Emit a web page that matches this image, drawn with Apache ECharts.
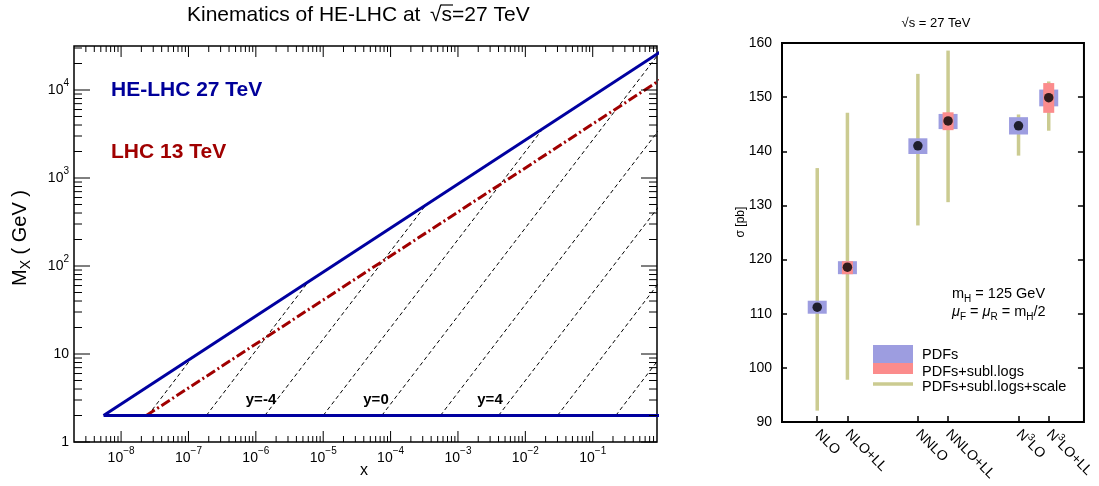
<!DOCTYPE html>
<html>
<head>
<meta charset="utf-8">
<script src="https://cdn.jsdelivr.net/npm/echarts@6/dist/echarts.min.js"></script>
<style>
html, body { margin: 0; padding: 0; background: #fff; }
#chart { width: 1099px; height: 486px; }
</style>
</head>
<body>
<div id="chart"></div>
<script>
// ---------- left panel: kinematic reach ----------
const heLhcLine = [[5.5e-9, 2], [1, 27000]];   // HE-LHC 27 TeV boundary
const lhcLine = [[2.37e-8, 2], [1, 13000]];    // LHC 13 TeV boundary
const floorLine = [[5.5e-9, 2], [1, 2]];       // M = 2 GeV
// constant rapidity lines y = -8 ... 8, start on M = 2 and end on the boundary
const rapStartX = [2.5e-8, 1.84e-7, 1.36e-6, 1.0e-5, 7.4e-5, 5.5e-4, 4.0e-3, 3.0e-2, 0.22];
const rapEndX = [1.13e-7, 6.1e-6, 3.35e-4, 1.83e-2, 1, 1, 1, 1, 1];
const rapEndM = [9.1, 67, 495, 3650, 27000, 3650, 495, 67, 9.1];
const xMajor = [1e-8, 1e-7, 1e-6, 1e-5, 1e-4, 1e-3, 1e-2, 1e-1];
const yMajor = [1, 10, 100, 1000, 10000];

// ---------- right panel: cross sections ----------
const orders = ['NLO', 'NLO+LL', 'NNLO', 'NNLO+LL', 'N{sup|3}LO', 'N{sup|3}LO+LL'];
const orderPos = [0.7, 1.3, 2.7, 3.3, 4.7, 5.3];
const sigma = [111.2, 118.6, 141.0, 145.6, 144.7, 149.9];
const pdfLo = [110.0, 117.3, 139.5, 144.1, 143.1, 148.3];
const pdfHi = [112.4, 119.7, 142.4, 146.9, 146.3, 151.4];
const logsLo = [null, 117.3, null, 143.9, null, 147.1];
const logsHi = [null, 119.7, null, 147.2, null, 152.6];
const scaleLo = [92.1, 97.8, 126.3, 130.6, 139.2, 143.8];
const scaleHi = [136.9, 147.1, 154.3, 158.6, 146.8, 152.9];

const FONT = 'Liberation Sans, Arial, Helvetica, sans-serif';
const X_MIN = 2e-9, X_MAX = 0.9, Y_MIN = 1, Y_MAX = 31623;

// minor log ticks 2..9 x 10^k
const xMinor = [];
for (let e = -9; e <= -1; e++) {
    for (let m = 2; m <= 9; m++) {
        const v = m * Math.pow(10, e);
        if (v > X_MIN * 1.001 && v < X_MAX) xMinor.push(v);
    }
}
const yMinor = [];
for (let e = 0; e <= 4; e++) {
    for (let m = 2; m <= 9; m++) {
        const v = m * Math.pow(10, e);
        if (v < Y_MAX) yMinor.push(v);
    }
}

// ticks on all four sides of the left frame
function tickSeries(vals, dir, len) {
    return {
        type: 'custom', xAxisIndex: 0, yAxisIndex: 0, silent: true, z: 5,
        data: vals.map(v => dir === 'x' ? [v, Y_MIN] : [X_MIN, v]),
        renderItem: function (params, api) {
            const cs = params.coordSys;
            const p = api.coord([api.value(0), api.value(1)]);
            const st = { stroke: '#000', lineWidth: 1 };
            if (dir === 'x') {
                const b = cs.y + cs.height;
                return { type: 'group', children: [
                    { type: 'line', shape: { x1: p[0], y1: b, x2: p[0], y2: b - len }, style: st },
                    { type: 'line', shape: { x1: p[0], y1: cs.y, x2: p[0], y2: cs.y + len }, style: st }
                ] };
            }
            const r = cs.x + cs.width;
            return { type: 'group', children: [
                { type: 'line', shape: { x1: cs.x, y1: p[1], x2: cs.x + len, y2: p[1] }, style: st },
                { type: 'line', shape: { x1: r, y1: p[1], x2: r - len, y2: p[1] }, style: st }
            ] };
        }
    };
}

// vertical bands of the right panel
function bandSeries(lo, hi, color, width, z) {
    const data = [];
    orderPos.forEach((p, i) => {
        if (lo[i] != null) data.push([p, lo[i], hi[i]]);
    });
    return {
        type: 'custom', xAxisIndex: 1, yAxisIndex: 1, z: z, silent: true,
        data: data,
        encode: { x: 0, y: [1, 2] },
        renderItem: function (params, api) {
            const a = api.coord([api.value(0), api.value(1)]);
            const b = api.coord([api.value(0), api.value(2)]);
            return { type: 'rect', shape: { x: a[0] - width / 2, y: b[1], width: width, height: a[1] - b[1] }, style: { fill: color } };
        }
    };
}

function logLabel(v) {
    const lg = Math.log10(v);
    const e = Math.round(lg);
    if (Math.abs(lg - e) > 1e-6) return '';
    if (e === 0) return '1';
    if (e === 1) return '10';
    return '10{sup|' + (e < 0 ? '\u2212' : '') + Math.abs(e) + '}';
}

const rapSeries = rapStartX.map((x0, i) => ({
    type: 'line', xAxisIndex: 0, yAxisIndex: 0, showSymbol: false, silent: true, z: 2,
    data: [[x0, 2], [rapEndX[i], rapEndM[i]]],
    lineStyle: { color: '#000', width: 1, type: [4, 3] }
}));

function txt(x, y, text, size, opts) {
    return Object.assign({
        type: 'text', x: x, y: y, silent: true,
        style: Object.assign({
            text: text, fill: '#000', fontSize: size, fontFamily: FONT,
            align: 'left', textAlign: 'left', verticalAlign: 'middle', textVerticalAlign: 'middle'
        }, opts || {})
    });
}

const chart = echarts.init(document.getElementById('chart'));
chart.setOption({
    animation: false,
    textStyle: { fontFamily: FONT },
    grid: [
        { left: 74, top: 46, width: 583, height: 396, show: true, borderColor: '#000', borderWidth: 1.5 },
        { left: 782, top: 43, width: 308, height: 379, show: true, borderColor: '#000', borderWidth: 2 }
    ],
    xAxis: [
        {
            gridIndex: 0, type: 'log', logBase: 10, min: X_MIN, max: X_MAX,
            axisLine: { show: false }, axisTick: { show: false }, splitLine: { show: false },
            axisLabel: {
                color: '#000', fontSize: 14, margin: 4, lineHeight: 24,
                showMinLabel: false, showMaxLabel: false,
                formatter: logLabel,
                rich: { sup: { fontSize: 10, lineHeight: 12, verticalAlign: 'top' } }
            }
        },
        {
            gridIndex: 1, type: 'value', min: 0, max: 6,
            axisLine: { show: false }, splitLine: { show: false },
            axisTick: { inside: true, length: 6, customValues: orderPos, lineStyle: { color: '#000', width: 1.5 } },
            axisLabel: {
                customValues: orderPos, rotate: -45, margin: 10, color: '#000', fontSize: 14, lineHeight: 20,
                formatter: function (v) {
                    const i = orderPos.findIndex(p => Math.abs(p - v) < 1e-6);
                    return i < 0 ? '' : orders[i];
                },
                rich: { sup: { fontSize: 10, lineHeight: 12, verticalAlign: 'top' } }
            }
        }
    ],
    yAxis: [
        {
            gridIndex: 0, type: 'log', logBase: 10, min: Y_MIN, max: Y_MAX,
            axisLine: { show: false }, axisTick: { show: false }, splitLine: { show: false },
            axisLabel: {
                color: '#000', fontSize: 14, margin: 5, lineHeight: 24,
                showMaxLabel: false,
                formatter: logLabel,
                rich: { sup: { fontSize: 10, lineHeight: 12, verticalAlign: 'top' } }
            }
        },
        {
            gridIndex: 1, type: 'value', min: 90, max: 160, interval: 10,
            axisLine: { show: false }, splitLine: { show: false },
            axisTick: { inside: true, length: 5, lineStyle: { color: '#000', width: 1.5 } },
            axisLabel: { color: '#000', fontSize: 14, margin: 10 }
        },
        {
            gridIndex: 1, type: 'value', position: 'right', min: 90, max: 160, interval: 10,
            axisLine: { show: false }, splitLine: { show: false },
            axisTick: { inside: true, length: 6, lineStyle: { color: '#000', width: 1.5 } },
            axisLabel: { show: false }
        }
    ],
    series: [
        tickSeries(xMajor, 'x', 11),
        tickSeries(xMinor, 'x', 6),
        tickSeries(yMajor, 'y', 16),
        tickSeries(yMinor, 'y', 8),
        ...rapSeries,
        {
            type: 'line', xAxisIndex: 0, yAxisIndex: 0, showSymbol: false, silent: true, z: 3,
            data: lhcLine, lineStyle: { color: '#a00000', width: 3, type: [10, 3, 2, 3] }
        },
        {
            type: 'line', xAxisIndex: 0, yAxisIndex: 0, showSymbol: false, silent: true, z: 4,
            data: heLhcLine, lineStyle: { color: '#0000a0', width: 3 }
        },
        {
            type: 'line', xAxisIndex: 0, yAxisIndex: 0, showSymbol: false, silent: true, z: 4,
            data: floorLine, lineStyle: { color: '#0000a0', width: 3 }
        },
        bandSeries(scaleLo, scaleHi, '#cbcb91', 3.5, 2),
        bandSeries(pdfLo, pdfHi, '#9d9de0', 19, 3),
        bandSeries(logsLo, logsHi, '#fb8c8c', 11, 4),
        {
            type: 'scatter', xAxisIndex: 1, yAxisIndex: 1, z: 6, silent: true,
            symbolSize: 9.5, itemStyle: { color: '#000' },
            data: orderPos.map((p, i) => [p, sigma[i]])
        }
    ],
    graphic: [
        // left panel texts
        txt(187, 15, 'Kinematics of HE-LHC at', 21),
        txt(430, 15, '\u221As=27 TeV', 21),
        { type: 'line', silent: true, shape: { x1: 441, y1: 5, x2: 453, y2: 5 }, style: { stroke: '#000', lineWidth: 1.2 } },
        txt(111, 90, 'HE-LHC 27 TeV', 21, { fontWeight: 'bold', fill: '#00009a' }),
        txt(111, 152, 'LHC 13 TeV', 21, { fontWeight: 'bold', fill: '#a00000' }),
        txt(261, 400, 'y=-4', 15, { fontWeight: 'bold', align: 'center', textAlign: 'center' }),
        txt(376, 400, 'y=0', 15, { fontWeight: 'bold', align: 'center', textAlign: 'center' }),
        txt(490, 400, 'y=4', 15, { fontWeight: 'bold', align: 'center', textAlign: 'center' }),
        txt(364, 471, 'x', 16, { align: 'center', textAlign: 'center' }),
        Object.assign(txt(20, 238, 'M{sub|X} ( GeV )', 20, {
            align: 'center', textAlign: 'center', lineHeight: 26,
            rich: { sub: { fontSize: 14, lineHeight: 14, verticalAlign: 'bottom' } }
        }), { rotation: Math.PI / 2 }),
        // right panel texts
        txt(936, 23, '\u221As = 27 TeV', 13, { align: 'center', textAlign: 'center' }),
        Object.assign(txt(741, 222, '\u03C3 [pb]', 12, { align: 'center', textAlign: 'center' }), { rotation: Math.PI / 2 }),
        txt(952, 294, 'm{sub|H} = 125 GeV', 14.5, {
            lineHeight: 20, rich: { sub: { fontSize: 10, lineHeight: 10, verticalAlign: 'bottom' } }
        }),
        txt(952, 312, '{it|\u03BC}{sub|F} = {it|\u03BC}{sub|R} = m{sub|H}/2', 14.5, {
            lineHeight: 20, rich: {
                sub: { fontSize: 10, lineHeight: 10, verticalAlign: 'bottom' },
                it: { fontStyle: 'italic', fontSize: 14.5 }
            }
        }),
        // legend
        { type: 'rect', silent: true, shape: { x: 873, y: 345, width: 40, height: 18 }, style: { fill: '#9d9de0' } },
        { type: 'rect', silent: true, shape: { x: 873, y: 363, width: 40, height: 11 }, style: { fill: '#fb8c8c' } },
        { type: 'line', silent: true, shape: { x1: 873, y1: 384, x2: 913, y2: 384 }, style: { stroke: '#cbcb91', lineWidth: 3.5 } },
        txt(922, 355, 'PDFs', 14.5),
        txt(922, 372, 'PDFs+subl.logs', 14.5),
        txt(922, 387, 'PDFs+subl.logs+scale', 14.5)
    ]
});
</script>
</body>
</html>
